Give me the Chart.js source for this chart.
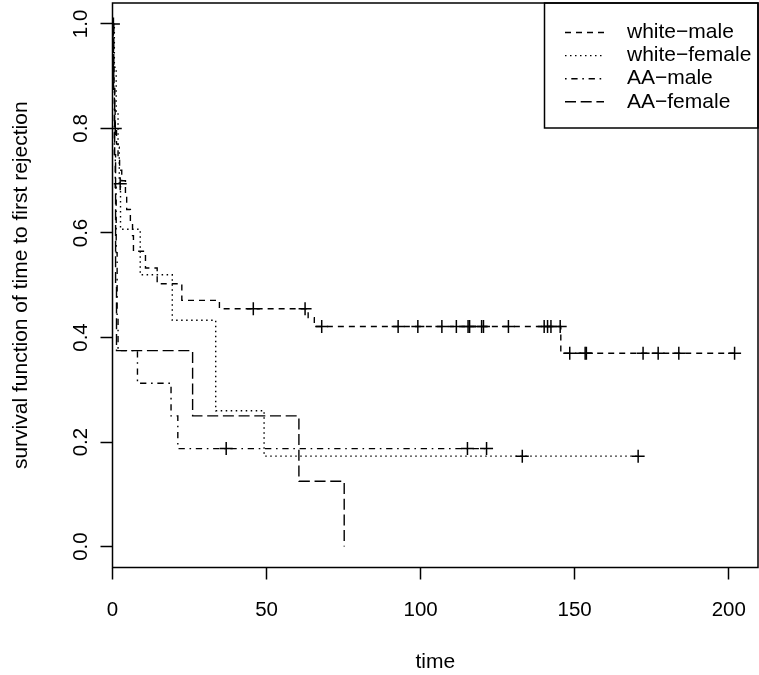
<!DOCTYPE html>
<html>
<head>
<meta charset="utf-8">
<script src="https://cdn.jsdelivr.net/npm/chart.js@4.4.1/dist/chart.umd.min.js"></script>
<style>
  html, body { margin: 0; padding: 0; background: #fff; overflow: hidden; }
  canvas { display: block; }
</style>
</head>
<body>
<canvas id="km" width="759" height="675"></canvas>
<script>
// groups, in legend order
const groups = ['white\u2212male', 'white\u2212female', 'AA\u2212male', 'AA\u2212female'];

// white-male: drop times and survival level after each drop
const wmTimes = [0.15, 0.3, 0.5, 0.7, 0.85, 1.3, 1.8, 2.3, 3.0, 4.2, 4.6, 5.8, 6.5, 6.8, 10.7, 14.5, 22.5, 34.7, 63.5, 65.5, 145.5];
const wmSurv  = [0.96, 0.92, 0.88, 0.84, 0.80, 0.77, 0.745, 0.72, 0.70, 0.67, 0.645, 0.62, 0.595, 0.565, 0.533, 0.503, 0.471, 0.455, 0.438, 0.421, 0.370];
const wmCensor = [0.9, 45.7, 62.5, 67.9, 92.7, 99.1, 106.9, 111.6, 115.4, 115.9, 119.8, 120.4, 128.5,
                  140.1, 141.2, 142.3, 145.3, 148.4, 153.4, 153.8, 172.2, 177.1, 183.8, 201.9];
const wmEnd = 201.9;

// white-female
const wfTimes = [0.6, 1.2, 1.8, 2.2, 2.6, 9.0, 19.4, 33.5, 49.2];
const wfSurv  = [0.917, 0.833, 0.764, 0.694, 0.607, 0.520, 0.433, 0.260, 0.173];
const wfCensor = [0.3, 2.5, 133.0, 170.6];
const wfEnd = 170.6;

// AA-male
const amTimes = [0.3, 0.6, 0.9, 1.2, 1.5, 1.8, 8.1, 19.0, 21.2];
const amSurv  = [0.875, 0.75, 0.6875, 0.5625, 0.4375, 0.375, 0.3125, 0.25, 0.1875];
const amCensor = [36.9, 115.2, 121.4];
const amEnd = 121.4;

// AA-female
const afTimes = [0.4, 0.7, 1.0, 1.3, 26.0, 60.5, 75.2];
const afSurv  = [0.875, 0.75, 0.5, 0.375, 0.25, 0.125, 0.0];
const afCensor = [];
const afEnd = 75.2;

const xTicks = [0, 50, 100, 150, 200];
const yTicks = [0.0, 0.2, 0.4, 0.6, 0.8, 1.0];

const FONT = '"Liberation Sans", Arial, Helvetica, sans-serif';
Chart.defaults.font.family = FONT;
Chart.defaults.color = '#000';

function stepPoints(times, surv, end) {
    const pts = [{x: 0, y: 1}];
    times.forEach((t, i) => pts.push({x: t, y: surv[i]}));
    if (end > times[times.length - 1]) pts.push({x: end, y: surv[surv.length - 1]});
    return pts;
}

function survAt(times, surv, t) {
    let s = 1;
    times.forEach((tt, i) => { if (tt <= t) s = surv[i]; });
    return s;
}

function curve(label, times, surv, end, dash) {
    return {
        label: label,
        data: stepPoints(times, surv, end),
        stepped: true,
        borderColor: '#000',
        borderWidth: 1.4,
        borderDash: dash,
        pointRadius: 0,
        fill: false
    };
}

function marks(times, surv, censor) {
    return {
        label: 'censored',
        data: censor.map(t => ({x: t, y: survAt(times, surv, t)})),
        showLine: false,
        pointStyle: 'cross',
        pointRadius: 6.5,
        pointBorderWidth: 1.5,
        borderColor: '#000',
        backgroundColor: '#000'
    };
}

const dashes = [[6, 5], [1.5, 3.5], [1.6, 4.7, 6.3, 4.7], [11, 4.7]];

const legendBox = {
    id: 'legendBox',
    afterDraw(chart) {
        const ctx = chart.ctx, a = chart.chartArea;
        ctx.save();
        ctx.strokeStyle = '#000';
        ctx.lineWidth = 1.5;
        ctx.setLineDash([]);
        ctx.strokeRect(a.left, a.top, a.right - a.left, a.bottom - a.top);
        ctx.strokeRect(544.5, a.top, a.right - 544.5, 125);
        ctx.font = '21px ' + FONT;
        ctx.textBaseline = 'middle';
        ctx.fillStyle = '#000';
        chart.data.datasets.slice(0, 4).forEach((ds, i) => {
            const y = 32.5 + i * 23.1;
            ctx.setLineDash(ds.borderDash);
            ctx.lineWidth = 1.4;
            ctx.beginPath();
            ctx.moveTo(565, y);
            ctx.lineTo(604, y);
            ctx.stroke();
            ctx.fillText(ds.label, 627, y);
        });
        ctx.restore();
    }
};

new Chart(document.getElementById('km'), {
    type: 'line',
    data: {
        datasets: [
            curve(groups[0], wmTimes, wmSurv, wmEnd, dashes[0]),
            curve(groups[1], wfTimes, wfSurv, wfEnd, dashes[1]),
            curve(groups[2], amTimes, amSurv, amEnd, dashes[2]),
            curve(groups[3], afTimes, afSurv, afEnd, dashes[3]),
            marks(wmTimes, wmSurv, wmCensor),
            marks(wfTimes, wfSurv, wfCensor),
            marks(amTimes, amSurv, amCensor),
            marks(afTimes, afSurv, afCensor)
        ]
    },
    options: {
        responsive: false,
        animation: false,
        devicePixelRatio: 1,
        layout: {autoPadding: false, padding: {top: 3, right: 1, left: 0, bottom: 0}},
        plugins: {legend: {display: false}, tooltip: {enabled: false}},
        scales: {
            x: {
                type: 'linear',
                min: 0,
                max: 209.5,
                border: {display: false},
                grid: {drawOnChartArea: false, drawTicks: true, tickLength: 12, tickColor: '#000', tickWidth: 1.5},
                ticks: {font: {size: 20.5}, padding: 19, maxRotation: 0, minRotation: 0},
                title: {display: true, text: 'time', font: {size: 21}, padding: {top: 0, bottom: 0}},
                afterBuildTicks: s => { s.ticks = xTicks.map(v => ({value: v})); },
                afterFit: s => { s.height = 107.5; s.paddingLeft = 0; s.paddingRight = 0; }
            },
            y: {
                min: -0.04,
                max: 1.04,
                border: {display: false},
                grid: {drawOnChartArea: false, drawTicks: true, tickLength: 12, tickColor: '#000', tickWidth: 1.5},
                ticks: {font: {size: 20.5}, padding: 5, minRotation: 90, maxRotation: 90, crossAlign: 'center',
                        callback: v => v.toFixed(1)},
                title: {display: true, text: 'survival function of time to first rejection', font: {size: 21},
                        padding: {top: 9, bottom: 0}},
                afterBuildTicks: s => { s.ticks = yTicks.map(v => ({value: v})); },
                afterFit: s => { s.width = 112.5; s.paddingTop = 0; s.paddingBottom = 0; }
            }
        }
    },
    plugins: [legendBox]
});
</script>
</body>
</html>
